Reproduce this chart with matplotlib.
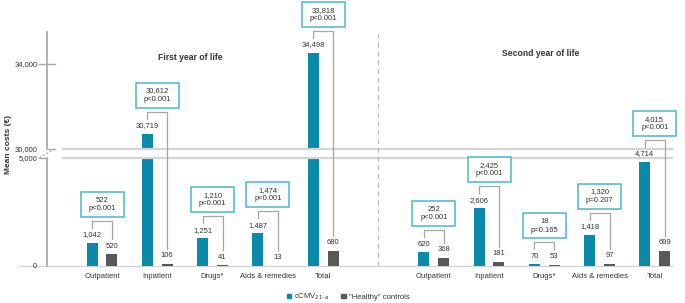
import matplotlib
matplotlib.use("Agg")
import matplotlib.pyplot as plt
import matplotlib.patches as mpatches
import matplotlib.transforms as mtransforms
import numpy as np

plt.rcParams['font.family'] = ['Liberation Sans', 'DejaVu Sans']

### Data ###
categories = ["Outpatient", "Inpatient", "Drugs*", "Aids & remedies", "Total"]
cmv_year1 = [1042, 30719, 1251, 1487, 34498]
ctrl_year1 = [520, 106, 41, 13, 680]
diff_year1 = [522, 30612, 1210, 1474, 33818]
p_year1 = ["p<0.001", "p<0.001", "p<0.001", "p<0.001", "p<0.001"]
cmv_year2 = [620, 2606, 70, 1418, 4714]
ctrl_year2 = [368, 181, 53, 97, 699]
diff_year2 = [252, 2425, 18, 1320, 4015]
p_year2 = ["p<0.001", "p<0.001", "p=0.165", "p=0.207", "p<0.001"]
ytick_values = [0, 5000, 30000, 34000]
group_titles = ["First year of life", "Second year of life"]

TEAL = "#0a8aab"
GREY = "#595959"
BOX = "#4cb5cf"
LINE = "#a6a6a6"
TXT = "#333333"

# broken axis: 0-4880 | gap | 30000-top, mapped to pixel units
ytop = 35480
upper_slope = 117 / (ytop - 30000)
brk_in = [0, 4880, 30000, 100000]
brk_out = [0, 108, 117, 117 + (100000 - 30000) * upper_slope]


def fwd(y):
    return np.interp(y, brk_in, brk_out)


def inv(y):
    return np.interp(y, brk_out, brk_in)


def shift(v, px):
    """ value that lies px pixels above value v """
    return inv(fwd(v) + px)


fig = plt.figure(figsize=(6.85, 3.03), dpi=100)
ax = fig.add_axes([47 / 685, 37 / 303, 625 / 685, 234 / 303])
ax.set_yscale('function', functions=(fwd, inv))
ax.set_ylim(0, ytop)
ax.set_xlim(-0.995, 10.31)
for s in ax.spines.values():
    s.set_visible(False)

bw = 0.2
off = 0.18
fs = 5.5
unit = 55.3  # px per x unit

groups = [(0, cmv_year1, ctrl_year1, diff_year1, p_year1),
          (6, cmv_year2, ctrl_year2, diff_year2, p_year2)]

xt, xl = [], []
for start, cmv, ctrl, diff, pv in groups:
    x = np.arange(len(categories)) + start
    ax.bar(x - off, cmv, bw, color=TEAL, zorder=2)
    ax.bar(x + off, ctrl, bw, color=GREY, zorder=2)
    xt += list(x)
    xl += categories
    for xi, a, b, d, p in zip(x, cmv, ctrl, diff, pv):
        la = shift(a, 8)
        lb = shift(b, 8)
        ax.text(xi - off, la, f"{a:,}", ha='center', va='center', fontsize=fs, color=TXT, zorder=6)
        ax.text(xi + off, lb, f"{b:,}", ha='center', va='center', fontsize=fs, color=TXT, zorder=6)
        top = max(fwd(la), fwd(lb)) + 14
        by = inv(top)
        ax.plot([xi - off, xi - off, xi + off, xi + off],
                [shift(la, 7), by, by, shift(lb, 7)],
                color=LINE, lw=0.9, zorder=5, clip_on=False)
        b0 = inv(top + 4)
        b1 = inv(top + 29)
        w = 43 / unit
        ax.add_patch(mpatches.Rectangle((xi - w / 2, b0), w, b1 - b0, fill=True, facecolor='white',
                                        edgecolor=BOX, lw=1.1, zorder=6, clip_on=False))
        ax.text(xi, inv(top + 16.5), f"{d:,}\n{p}", ha='center', va='center', fontsize=fs,
                color=TXT, linespacing=1.25, zorder=7, clip_on=False)

ax.set_xticks(xt, xl, fontsize=fs, color=TXT)
ax.tick_params(axis='x', length=0, pad=5)

ax.set_yticks(ytick_values, [f"{v:,}" for v in ytick_values], fontsize=fs, color=TXT)
ax.tick_params(axis='y', length=0, pad=7)
ax.set_ylabel("Mean costs (€)", fontsize=6, fontweight='bold', color=TXT)
ax.yaxis.set_label_coords(-35 / 625, 0.52)

# break band and lines
bt = mtransforms.blended_transform_factory(ax.transAxes, ax.transData)
ax.fill_between([16 / 625, 1], brk_in[1], brk_in[2], transform=bt, color='white', lw=0, zorder=3)
for yv in brk_in[1:3]:
    ax.plot([16 / 625, 1], [yv, yv], transform=bt, color="#d4d4d4", lw=1.6, zorder=4, clip_on=False)

# y axis with break
ax.plot([0, 0], [0, brk_in[1]], transform=bt, color=LINE, lw=1.2, clip_on=False, zorder=4)
ax.plot([0, 0], [brk_in[2], ytop], transform=bt, color=LINE, lw=1.2, clip_on=False, zorder=4)
ax.plot([-8 / 625, 8 / 625], [34000, 34000], transform=bt, color=LINE, lw=1.0, clip_on=False)
ax.plot([0, 8 / 625], [30000, 30000], transform=bt, color=LINE, lw=1.0, clip_on=False)
ax.plot([-8 / 625, 0], [brk_in[1], brk_in[1]], transform=bt, color=LINE, lw=1.0, clip_on=False)
ax.plot([8 / 625, -8 / 625], [30000, brk_in[1]], transform=bt, color=LINE, lw=0.8, ls=(0, (2, 1.5)),
        clip_on=False)

# baseline
ax.plot([-28 / 625, 1], [0, 0], transform=bt, color="#d4d4d4", lw=1.0, clip_on=False, zorder=1)

# separator between years
ax.axvline(5, color="#bdbdbd", lw=0.9, ls=(0, (4, 3)), zorder=4)

ax.text(1.6, 0.893, group_titles[0], transform=ax.get_xaxis_transform(), ha='center', va='center',
        fontsize=6.2, fontweight='bold', color=TXT)
ax.text(7.94, 0.906, group_titles[1], transform=ax.get_xaxis_transform(), ha='center', va='center',
        fontsize=6.2, fontweight='bold', color=TXT)

handles = [mpatches.Patch(color=TEAL, label="cCMV$_{21\u2013a}$"),
           mpatches.Patch(color=GREY, label='"Healthy" controls')]
fig.legend(handles=handles, loc='center', bbox_to_anchor=(348 / 685, 1 - 297 / 303), ncol=2,
           frameon=False, fontsize=fs, handlelength=0.6, handleheight=0.6, handletextpad=0.4,
           columnspacing=1.5, labelcolor=TXT)

fig.savefig("out.png", dpi=100)
